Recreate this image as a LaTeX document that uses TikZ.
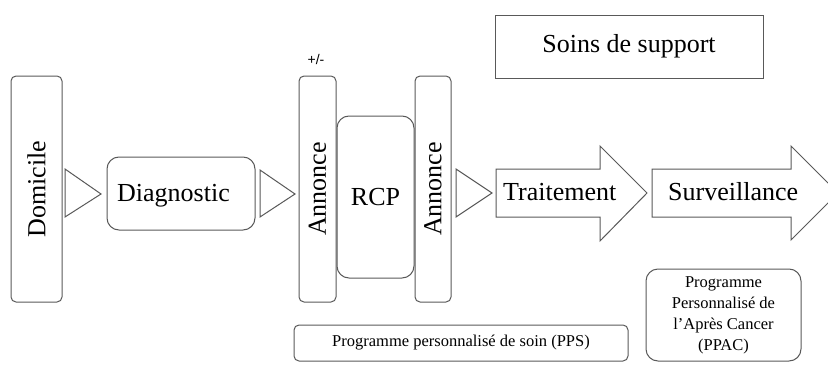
\documentclass[tikz,border=0pt]{standalone}
\usepackage{fontspec}
\setmainfont{Liberation Serif}
\newfontfamily\signfont{Liberation Sans}

\tikzset{
  line/.style={draw=black!65, line width=1pt},
  box/.style={line, rounded corners=5pt, inner sep=0pt},
  roundbox/.style={box, rounded corners=12pt},
  flatbox/.style={line, sharp corners, inner sep=0pt},
  flow/.style={line, fill=white, line join=miter},
}
\newcommand{\bigtxt}{\fontsize{26}{30}\selectfont}
\newcommand{\smalltxt}{\fontsize{16.5}{21}\selectfont}

\begin{document}
\begin{tikzpicture}[x=1pt,y=1pt,yscale=-1,xscale=1]
\useasboundingbox (0,0) rectangle (828,367);
\clip (0,0) rectangle (828,367);

%Shape: Rectangle (Domicile)
\node[box, rotate=90, minimum width=226pt, minimum height=51pt, font=\bigtxt] (domicile) at (36.5,189) {Domicile};
%Shape: Triangle
\draw[flow] (65,169) -- (101,194) -- (65,217) -- cycle;

%Shape: Rounded Rect (Diagnostic)
\node[roundbox, minimum width=148pt, minimum height=73pt] (diag) at (181,193.5) {};
% Text Node
\node[anchor=base west, inner sep=0pt, font=\bigtxt] (diagtxt) at (117,201.7) {Diagnostic};
%Shape: Triangle
\draw[flow] (260,170) -- (295,194) -- (260,217) -- cycle;

%Shape: Rectangle (Annonce)
\node[box, rotate=90, minimum width=226pt, minimum height=37pt, font=\bigtxt] (annonce1) at (317.5,189) {Annonce};
% Text Node
\node[font=\signfont\fontsize{14}{16}\selectfont] (pm) at (316,59) {+/-};
%Shape: Rounded Rect (RCP)
\node[roundbox, minimum width=77pt, minimum height=162pt, font=\bigtxt] (rcp) at (375.5,197) {RCP};
%Shape: Rectangle (Annonce)
\node[box, rotate=90, minimum width=226pt, minimum height=36pt, font=\bigtxt] (annonce2) at (433,189) {Annonce};
%Shape: Triangle
\draw[flow] (456,169) -- (492,193) -- (456,217) -- cycle;

%Shape: Right Arrow
\draw[flow] (496,169) -- (600,169) -- (600,146) -- (647,193) -- (600,241) -- (600,217) -- (496,217) -- cycle;
% Text Node
\node[anchor=base west, inner sep=0pt, font=\bigtxt] (traitement) at (503,200.7) {Traitement};
%Shape: Right Arrow
\draw[flow] (652,169) -- (791,169) -- (791,146) -- (838,193) -- (791,240) -- (791,217) -- (652,217) -- cycle;
% Text Node
\node[anchor=base west, inner sep=0pt, font=\bigtxt] (surveillance) at (668,200.7) {Surveillance};

%Shape: Rectangle (Soins de support)
\node[flatbox, minimum width=268pt, minimum height=63pt, font=\bigtxt] (soins) at (629,46.5) {Soins de support};

%Shape: Rounded Rect (PPS)
\node[box, minimum width=334pt, minimum height=36pt, font=\smalltxt] (pps) at (461,343) {Programme personnalisé de soin (PPS)};
%Shape: Rounded Rect (PPAC)
\node[roundbox, minimum width=155pt, minimum height=92pt, align=center, font=\smalltxt] (ppac) at (723.5,315) {Programme\\Personnalisé de\\l’Après Cancer\\(PPAC)};

\end{tikzpicture}
\end{document}
